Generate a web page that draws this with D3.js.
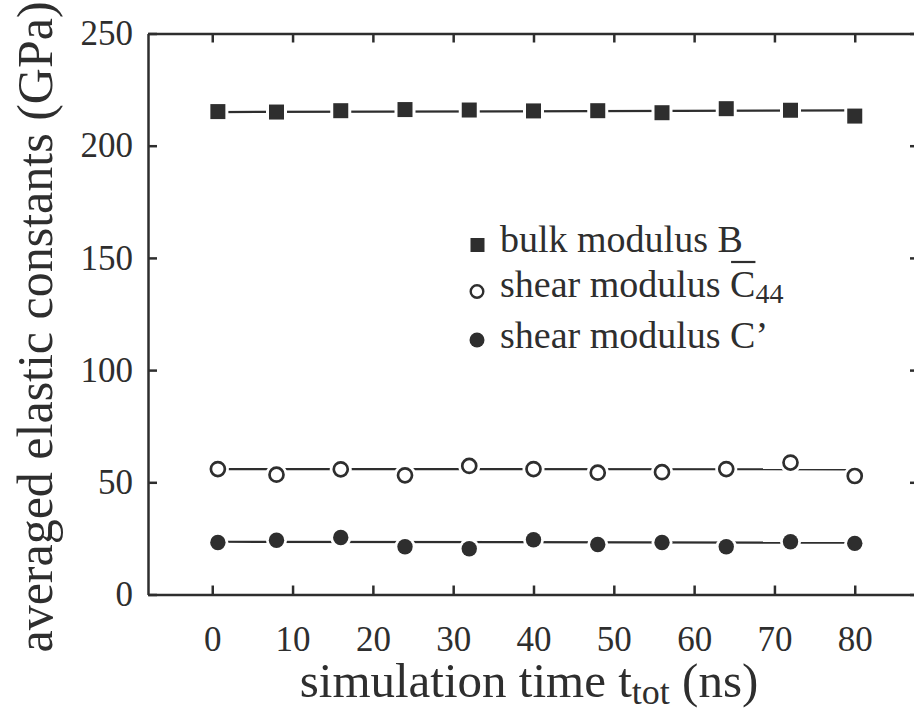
<!DOCTYPE html>
<html>
<head>
<meta charset="utf-8">
<script src="https://cdn.jsdelivr.net/npm/d3@7"></script>
</head>
<body style="margin:0">
<script>
// simulation times (ns) and averaged elastic constants (GPa)
const times = [0.7, 8, 16, 24, 32, 40, 48, 56, 64, 72, 80];
const bulkB = [215.2, 215.0, 215.6, 216.1, 215.9, 215.5, 215.6, 214.7, 216.5, 215.8, 213.2];
const shearC44 = [55.9, 53.4, 55.8, 53.1, 57.3, 55.9, 54.3, 54.5, 55.9, 58.8, 52.8];
const shearCp = [23.2, 24.2, 25.4, 21.3, 20.4, 24.4, 22.3, 23.2, 21.3, 23.5, 22.8];

// straight fit lines, read at first and last time
const fitT = [0.7, 80];
const fitB = [215.0, 215.7];
const fitC44 = [55.9, 55.8];
const fitCp = [23.5, 23.1];

const xTicks = [0, 10, 20, 30, 40, 50, 60, 70, 80];
const yTicks = [0, 50, 100, 150, 200, 250];

const W = 914, H = 710;
const ink = "#2e2e2e";

const svg = d3.select("body").append("svg")
    .attr("width", W)
    .attr("height", H)
    .attr("font-family", "Liberation Serif");

const x = d3.scaleLinear().domain([-8, 88]).range([148, 919]);
const y = d3.scaleLinear().domain([0, 250]).range([594.5, 33.5]);

// axes, ticks pointing inward
const axisStyle = g => {
    g.attr("font-family", "Liberation Serif").attr("font-size", 35);
    g.selectAll("path, line").attr("stroke", ink).attr("stroke-width", 2.5);
    g.selectAll("text").attr("fill", ink);
};

svg.append("g")
    .attr("transform", `translate(0,${y(0)})`)
    .call(d3.axisBottom(x).tickValues(xTicks).tickSize(-9).tickSizeOuter(0).tickPadding(32))
    .call(axisStyle);

svg.append("g")
    .attr("transform", `translate(0,${y(250)})`)
    .call(d3.axisTop(x).tickValues(xTicks).tickSize(-9).tickSizeOuter(0).tickFormat(""))
    .call(axisStyle);

svg.append("g")
    .attr("transform", `translate(${x(-8)},0)`)
    .call(d3.axisLeft(y).tickValues(yTicks).tickSize(-9).tickSizeOuter(0).tickPadding(15))
    .call(axisStyle);

svg.append("g")
    .attr("transform", `translate(${x(88)},0)`)
    .call(d3.axisRight(y).tickValues(yTicks).tickSize(-9).tickSizeOuter(0).tickFormat(""))
    .call(axisStyle);

// fit lines
[fitB, fitC44, fitCp].forEach(f => {
    svg.append("path")
        .datum(fitT.map((t, i) => [t, f[i]]))
        .attr("fill", "none")
        .attr("stroke", ink)
        .attr("stroke-width", 2.2)
        .attr("d", d3.line().x(d => x(d[0])).y(d => y(d[1])));
});

// markers with white halo so the line breaks around them
const sq = 15;
const gB = svg.append("g");
times.forEach((t, i) => {
    gB.append("rect")
        .attr("x", x(t) - sq / 2 - 3).attr("y", y(bulkB[i]) - sq / 2 - 3)
        .attr("width", sq + 6).attr("height", sq + 6).attr("fill", "#fff");
    gB.append("rect")
        .attr("x", x(t) - sq / 2).attr("y", y(bulkB[i]) - sq / 2)
        .attr("width", sq).attr("height", sq).attr("fill", ink);
});

const gC = svg.append("g");
times.forEach((t, i) => {
    gC.append("circle").attr("cx", x(t)).attr("cy", y(shearC44[i])).attr("r", 11).attr("fill", "#fff");
    gC.append("circle").attr("cx", x(t)).attr("cy", y(shearC44[i])).attr("r", 7)
        .attr("fill", "#fff").attr("stroke", ink).attr("stroke-width", 2.7);
});

const gP = svg.append("g");
times.forEach((t, i) => {
    gP.append("circle").attr("cx", x(t)).attr("cy", y(shearCp[i])).attr("r", 10.5).attr("fill", "#fff");
    gP.append("circle").attr("cx", x(t)).attr("cy", y(shearCp[i])).attr("r", 7.7).attr("fill", ink);
});

// legend
const lg = svg.append("g").attr("font-family", "Liberation Serif").attr("font-size", 38);
lg.append("rect").attr("x", 470.5).attr("y", 238).attr("width", 14).attr("height", 14).attr("fill", ink);
lg.append("text").attr("x", 500).attr("y", 252).attr("fill", ink).text("bulk modulus B");

lg.append("circle").attr("cx", 477).attr("cy", 291.5).attr("r", 6.3)
    .attr("fill", "#fff").attr("stroke", ink).attr("stroke-width", 2.4);
const t2 = lg.append("text").attr("x", 500).attr("y", 297).attr("fill", ink);
t2.append("tspan").text("shear modulus ");
t2.append("tspan").text("C");
t2.append("tspan").attr("dy", 6).attr("font-size", 28).text("44");
const cNode = t2.node();
const cStart = cNode.getStartPositionOfChar(14).x;
const cEnd = cNode.getEndPositionOfChar(14).x;
lg.append("line")
    .attr("x1", cStart + 1).attr("x2", cEnd)
    .attr("y1", 262).attr("y2", 262)
    .attr("stroke", ink).attr("stroke-width", 2.2);

lg.append("circle").attr("cx", 477).attr("cy", 340).attr("r", 7.5).attr("fill", ink);
lg.append("text").attr("x", 500).attr("y", 348).attr("fill", ink).text("shear modulus C\u2019");

// axis titles
const xt = svg.append("text")
    .attr("x", 529).attr("y", 697)
    .attr("text-anchor", "middle")
    .attr("fill", ink)
    .attr("font-family", "Liberation Serif")
    .attr("font-size", 49);
xt.append("tspan").text("simulation time t");
xt.append("tspan").attr("dy", 7).attr("font-size", 36).text("tot");
xt.append("tspan").attr("dy", -7).text(" (ns)");

svg.append("text")
    .attr("transform", "translate(52,327) rotate(-90)")
    .attr("text-anchor", "middle")
    .attr("fill", ink)
    .attr("font-family", "Liberation Serif")
    .attr("font-size", 50)
    .text("averaged elastic constants (GPa)");
</script>
</body>
</html>
